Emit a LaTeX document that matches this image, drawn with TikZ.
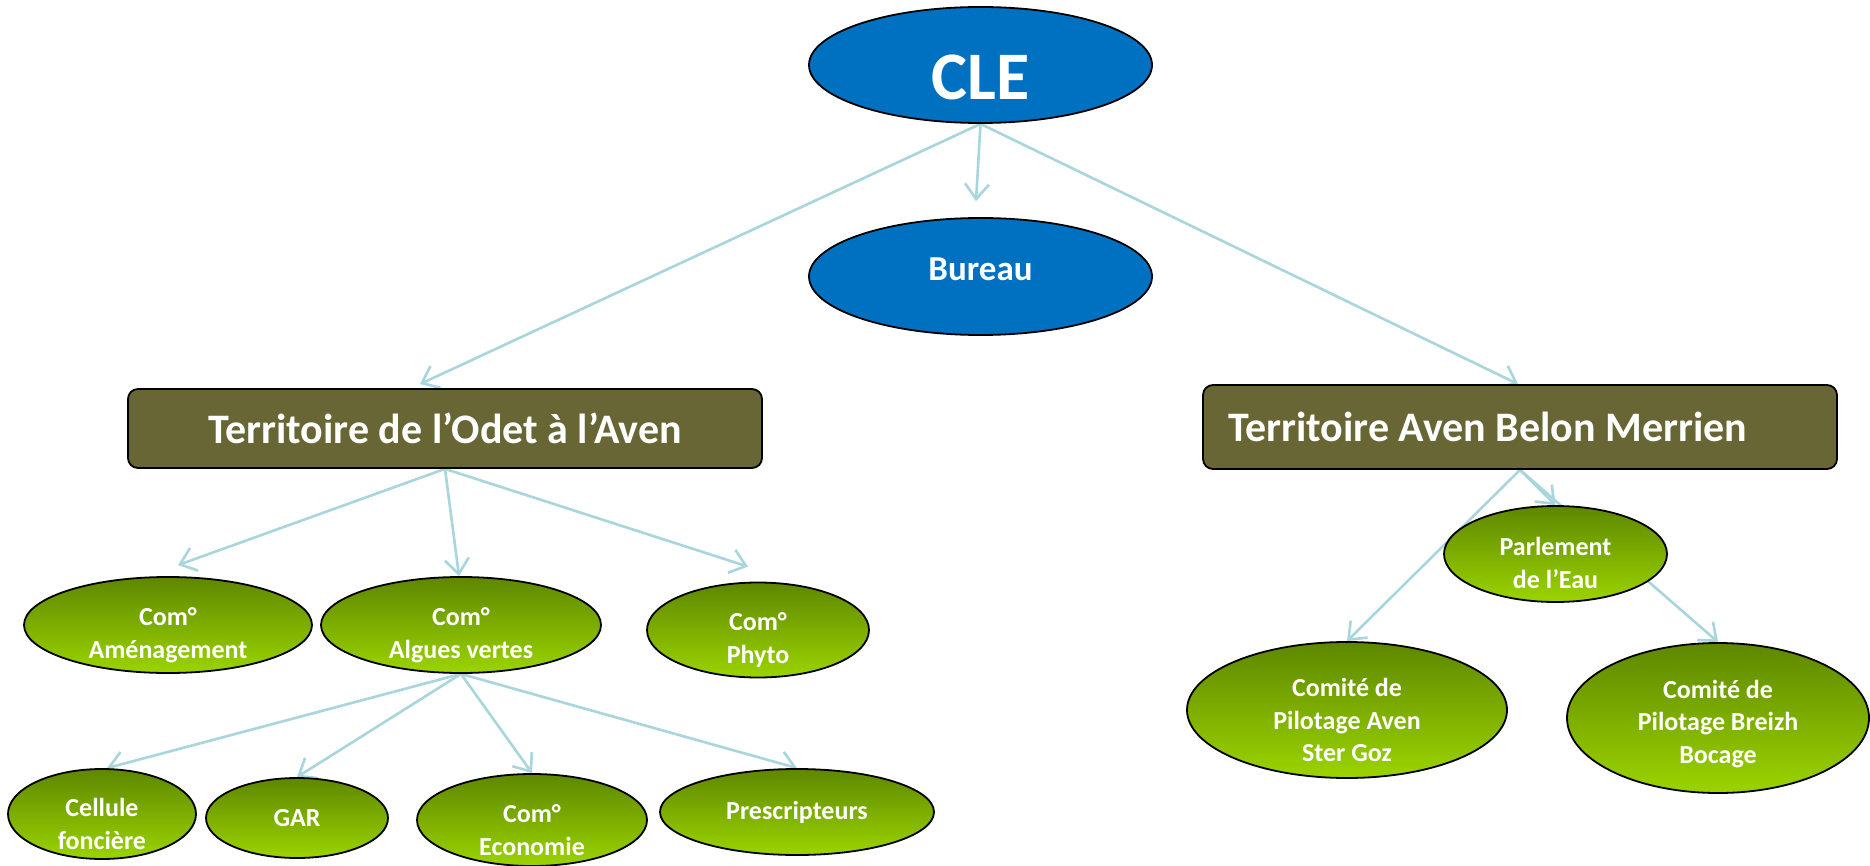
\documentclass[tikz,border=0pt]{standalone}
\usepackage{fontspec}
\setmainfont{Carlito}
\usetikzlibrary{shapes.geometric,arrows.meta,calc}
\definecolor{cleblue}{RGB}{0,112,192}
\definecolor{terrcol}{RGB}{103,102,52}
\definecolor{gtop}{RGB}{94,135,0}
\definecolor{gbot}{RGB}{155,212,0}
\definecolor{conncol}{RGB}{168,214,220}
\pgfdeclarelayer{bg}\pgfsetlayers{bg,main}
\begin{document}
\begin{tikzpicture}[x=1pt,y=-1pt,
  blueell/.style={ellipse, draw=black, line width=1.8pt, fill=cleblue, inner sep=0pt},
  terr/.style={rectangle, rounded corners=10pt, draw=black, line width=1.8pt, fill=terrcol, text=white, font=\fontsize{42}{50}\selectfont\bfseries, inner sep=0pt},
  gell/.style={ellipse, draw=black, line width=1.8pt, top color=gtop, bottom color=gbot, inner sep=0pt},
  wt/.style={text=white, align=center, inner sep=0pt, font=\fontsize{26}{32.7}\selectfont\bfseries},
  conn/.style={draw=conncol, line width=2.6pt, line join=round, -{Straight Barb[length=15pt,width=24pt,line width=2.6pt]}},
]
\path[use as bounding box] (0,0) rectangle (1870,866);

\node[blueell, minimum width=343pt, minimum height=116pt,
  label={[wt,font=\fontsize{68}{80}\selectfont\bfseries,yshift=-12.5pt]center:CLE}] (cle) at (980.5,65) {};
\node[blueell, minimum width=343pt, minimum height=117pt,
  label={[wt,font=\fontsize{35}{42}\selectfont\bfseries,yshift=7.5pt]center:Bureau}] (bureau) at (980.5,276.5) {};

\node[terr, minimum width=634pt, minimum height=79pt] (odet) at (445,428.5) {Territoire de l’Odet à l’Aven};
\node[terr, minimum width=634pt, minimum height=84pt] (aven) at (1520,427) {\makebox[584pt][l]{Territoire Aven Belon Merrien}};

\node[gell, minimum width=288pt, minimum height=96pt, label={[wt,yshift=-10pt]center:{Com°\\Aménagement}}] (amen) at (168,625) {};
\node[gell, minimum width=280pt, minimum height=96pt, label={[wt,yshift=-10pt]center:{Com°\\Algues vertes}}] (algues) at (461,625) {};
\node[gell, minimum width=222pt, minimum height=95pt, label={[wt,yshift=-10pt]center:{Com°\\Phyto}}] (phyto) at (758,630) {};
\node[gell, minimum width=188pt, minimum height=90pt, label={[wt,yshift=-10pt]center:{Cellule\\foncière}}] (cellule) at (102,814) {};
\node[gell, minimum width=182pt, minimum height=80pt, label={[wt]center:GAR}] (gar) at (297,818) {};
\node[gell, minimum width=230pt, minimum height=92pt, label={[wt,yshift=-10pt]center:{Com°\\Economie}}] (eco) at (532,820) {};
\node[gell, minimum width=274pt, minimum height=86pt, label={[wt]center:Prescripteurs}] (presc) at (797,812) {};
\node[gell, minimum width=223pt, minimum height=96pt, label={[wt,yshift=-9pt]center:{Parlement\\de l’Eau}}] (parl) at (1555.5,554) {};
\node[gell, minimum width=320pt, minimum height=136pt, label={[wt,yshift=-10pt]center:{Comité de\\Pilotage Aven\\Ster Goz}}] (ster) at (1347,710) {};
\node[gell, minimum width=302pt, minimum height=150pt, label={[wt,yshift=-6pt]center:{Comité de\\Pilotage Breizh\\Bocage}}] (breizh) at (1718,718) {};

\begin{pgfonlayer}{bg}
\fill[white] (0,0) rectangle (1870,866);
\draw[conn] (cle.south) -- ($(bureau.north)+(-4.5,-16)$);
\draw[conn] (cle.south) -- ($(odet.north)+(-25,-4)$);
\draw[conn] (cle.south) -- ($(aven.north)+(-2,0)$);
\draw[conn] (odet.south) -- ($(amen.north)+(10,-11)$);
\draw[conn] (odet.south) -- ($(algues.north)+(-2,0)$);
\draw[conn] (odet.south) -- ($(phyto.north)+(-10,-15)$);
\draw[conn] (algues.south) -- ($(cellule.north)+(5,0)$);
\draw[conn] (algues.south) -- (gar.north);
\draw[conn] (algues.south) -- (eco.north);
\draw[conn] (algues.south) -- (presc.north);
\draw[conn] (aven.south) -- (parl.north);
\draw[conn] (aven.south) -- (ster.north);
\draw[conn] (aven.south) -- (breizh.north);
\end{pgfonlayer}
\end{tikzpicture}
\end{document}
